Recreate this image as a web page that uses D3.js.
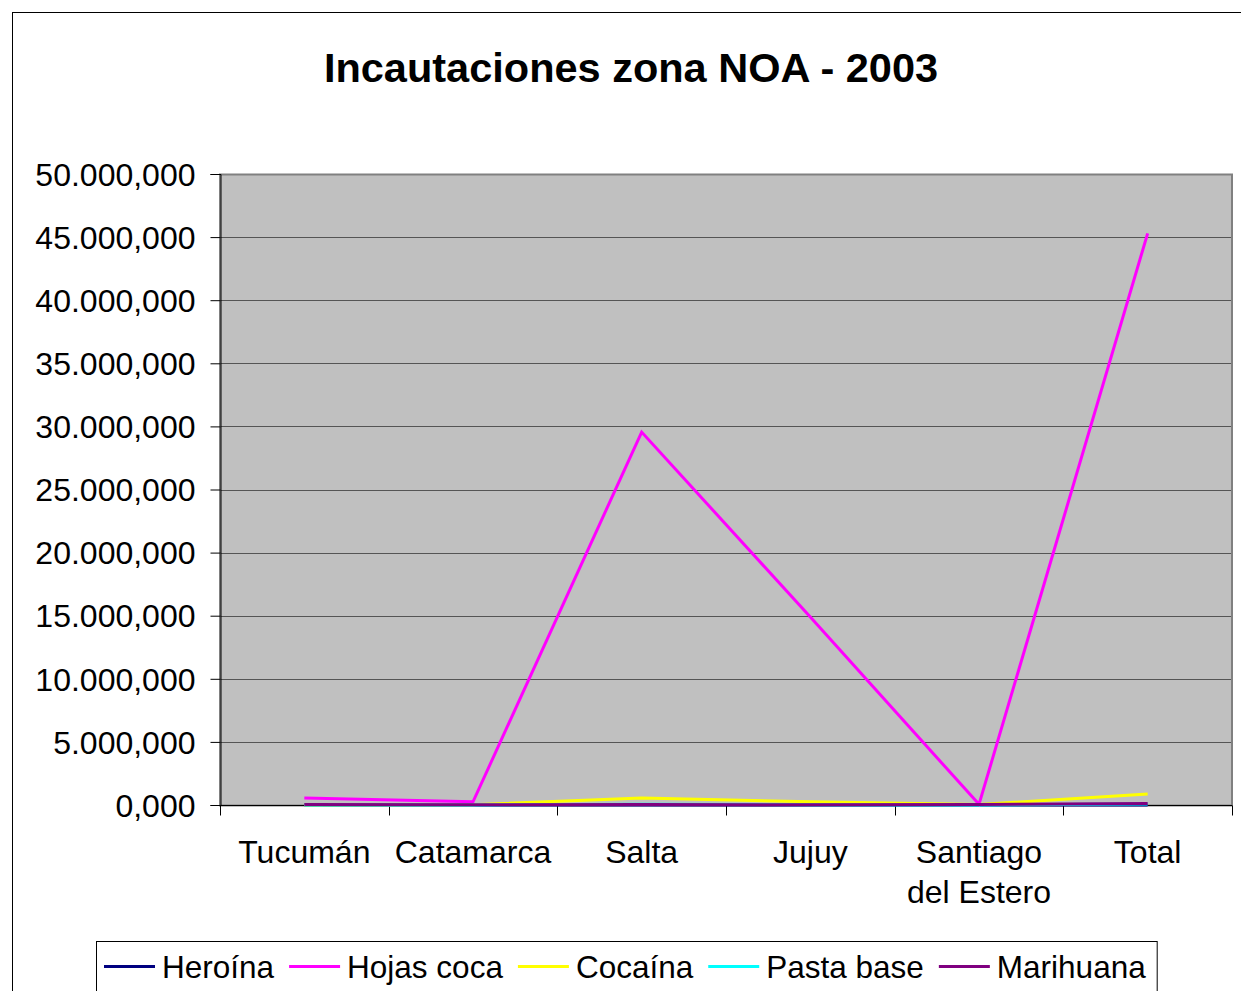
<!DOCTYPE html>
<html>
<head>
<meta charset="utf-8">
<script src="https://cdn.jsdelivr.net/npm/d3@7"></script>
<style>
  body{margin:0;background:#fff;}
  svg text{font-family:"Liberation Sans",Arial,sans-serif;fill:#000;}
</style>
</head>
<body>
<div id="chart"></div>
<script>
// data (kg)
var categories = ["Tucumán","Catamarca","Salta","Jujuy","Santiago\ndel Estero","Total"];
var seriesNames = ["Heroína","Hojas coca","Cocaína","Pasta base","Marihuana"];
var seriesColors = ["#000080","#ff00ff","#ffff00","#00ffff","#800080"];
var heroina   = [0, 0, 5, 2, 0, 7];
var hojasCoca = [550, 250, 29550, 14900, 50, 45300];
var cocaina   = [0, 20, 560, 260, 40, 880];
var pastaBase = [0, 0, 60, 20, 0, 80];
var marihuana = [30, 10, 30, 20, 30, 120];
var yTicks = [0,5000,10000,15000,20000,25000,30000,35000,40000,45000,50000];

var W = 1241, H = 991,
    plot = {left:220, right:1232, top:174, bottom:805},
    FS = "32px";

var svg = d3.select("#chart").append("svg")
    .attr("width",W).attr("height",H);

// chart frame
svg.append("rect").attr("x",12.5).attr("y",12.5)
    .attr("width",W).attr("height",H)
    .attr("fill","#fff").attr("stroke","#000").attr("stroke-width",1);

svg.append("text").attr("x",631).attr("y",82)
    .attr("text-anchor","middle")
    .style("font-size","41.5px").style("font-weight","bold")
    .text("Incautaciones zona NOA - 2003");

var x = d3.scaleBand().domain(categories).range([plot.left,plot.right]).padding(0),
    y = d3.scaleLinear().domain([0,50000]).range([plot.bottom,plot.top]);

var locale = d3.formatLocale({decimal:",",thousands:".",grouping:[3],currency:["$",""]}),
    fmt = locale.format(",.3f");

// plot area
svg.append("rect").attr("x",plot.left).attr("y",plot.top)
    .attr("width",plot.right-plot.left).attr("height",plot.bottom-plot.top)
    .attr("fill","#c0c0c0");

svg.append("g").selectAll("line").data(yTicks.slice(1)).enter().append("line")
    .attr("x1",plot.left).attr("x2",plot.right)
    .attr("y1",function(d){return Math.round(y(d))+0.5;})
    .attr("y2",function(d){return Math.round(y(d))+0.5;})
    .attr("stroke","#555").attr("stroke-width",1);

svg.append("rect").attr("x",plot.left).attr("y",plot.top+0.5)
    .attr("width",plot.right-plot.left).attr("height",plot.bottom-plot.top)
    .attr("fill","none").attr("stroke","#808080").attr("stroke-width",2);

// y axis
var yAxis = svg.append("g")
    .attr("transform","translate("+(plot.left+0.5)+",0)")
    .call(d3.axisLeft(y).tickValues(yTicks).tickFormat(fmt).tickSize(10).tickPadding(15));
yAxis.select(".domain").attr("stroke","#000");
yAxis.selectAll(".tick line").attr("stroke","#000");
yAxis.selectAll(".tick text").style("font-size",FS).attr("dy","0.35em");

// x axis
var xb = svg.append("g").attr("transform","translate(0,"+(plot.bottom+0.5)+")");
xb.append("line").attr("x1",plot.left).attr("x2",plot.right).attr("stroke","#000");
var bounds = categories.map(function(c){return x(c);}).concat([plot.right]);
xb.selectAll("line.tk").data(bounds).enter().append("line").attr("class","tk")
    .attr("x1",function(d){return Math.round(d)+0.5;}).attr("x2",function(d){return Math.round(d)+0.5;})
    .attr("y1",0).attr("y2",10).attr("stroke","#000");
xb.selectAll("text").data(categories).enter().append("text")
    .attr("x",function(d){return x(d)+x.bandwidth()/2;})
    .attr("y",57)
    .attr("text-anchor","middle")
    .style("font-size",FS)
    .each(function(d){
        var t = d3.select(this);
        d.split("\n").forEach(function(s,i){
            t.append("tspan").attr("x",x(d)+x.bandwidth()/2).attr("dy",i?40:0).text(s);
        });
    });

// lines
var allSeries = [heroina,hojasCoca,cocaina,pastaBase,marihuana];
var line = d3.line()
    .x(function(d,i){return x(categories[i])+x.bandwidth()/2;})
    .y(function(d){return y(d);});
svg.append("g").selectAll("path").data(allSeries).enter().append("path")
    .attr("d",line)
    .attr("fill","none")
    .attr("stroke",function(d,i){return seriesColors[i];})
    .attr("stroke-width",3);

// legend
var lg = svg.append("g");
var lgBox = lg.append("rect").attr("x",96.5).attr("y",941.5)
    .attr("height",52).attr("fill","#fff").attr("stroke","#000");
var cx = 104;
seriesNames.forEach(function(name,i){
    lg.append("line").attr("x1",cx).attr("x2",cx+51).attr("y1",966.5).attr("y2",966.5)
        .attr("stroke",seriesColors[i]).attr("stroke-width",3);
    var t = lg.append("text").attr("x",cx+58).attr("y",978)
        .style("font-size","31.5px").text(name);
    cx += 58 + t.node().getComputedTextLength() + 15;
});
lgBox.attr("width",cx-96-4);
</script>
</body>
</html>
